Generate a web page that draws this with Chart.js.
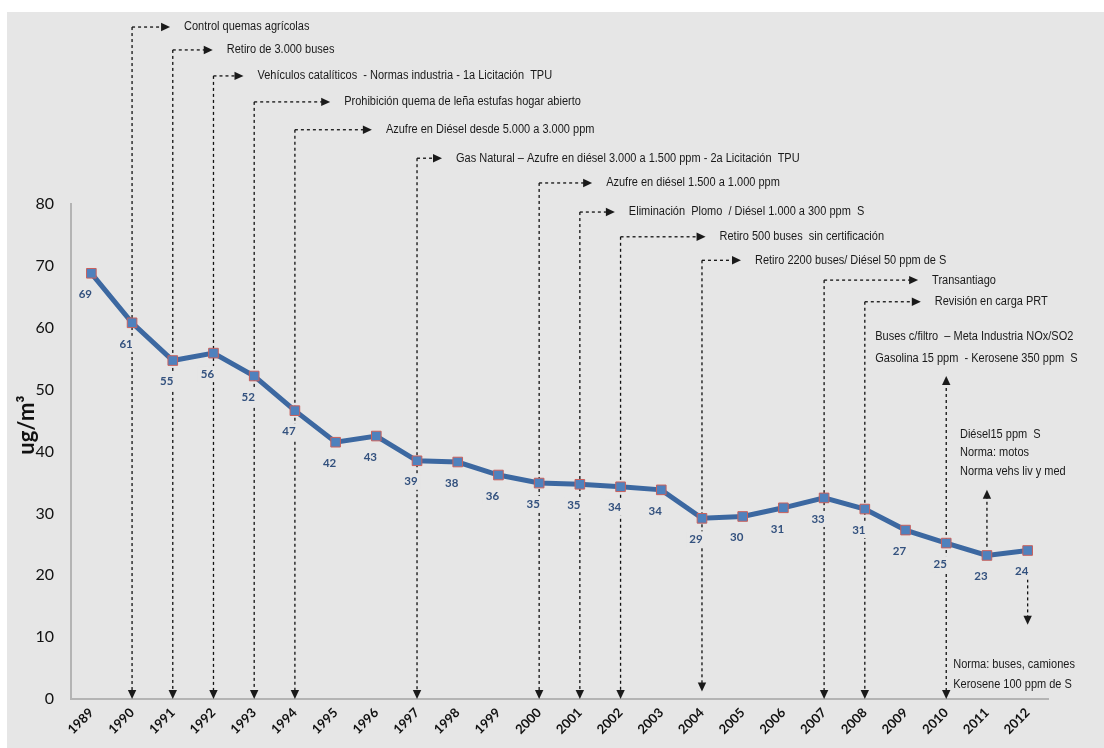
<!DOCTYPE html>
<html>
<head>
<meta charset="utf-8">
<script src="https://cdn.jsdelivr.net/npm/chart.js@4.4.0/dist/chart.umd.min.js"></script>
<style>
  html, body { margin: 0; padding: 0; background: #fff; }
  canvas { display: block; }
</style>
</head>
<body>
<canvas id="pmChart" width="1104" height="748"></canvas>
<script>
// Datos: concentración anual (ug/m3)
const years = ["1989","1990","1991","1992","1993","1994","1995","1996","1997","1998","1999","2000",
               "2001","2002","2003","2004","2005","2006","2007","2008","2009","2010","2011","2012"];
const pm10 = [68.8, 60.8, 54.7, 55.9, 52.2, 46.6, 41.5, 42.5, 38.5, 38.3, 36.2, 34.9,
              34.7, 34.3, 33.8, 29.2, 29.5, 30.9, 32.5, 30.7, 27.3, 25.2, 23.2, 24.0];
const yTicks = [0, 10, 20, 30, 40, 50, 60, 70, 80];

// Medidas (año, nivel de la fila en unidades del eje, largo de flecha, texto)
const eventYears = ["1990","1991","1992","1993","1994","1997","2000","2001","2002","2004","2007","2008"];
const eventLevels = [108.6, 104.9, 100.7, 96.5, 92.0, 87.4, 83.4, 78.7, 74.7, 70.9, 67.7, 64.2];
const eventEnds = [0, 0, 0, 0, 0, 0, 0, 0, 0, 1.2, 0, 0];
const eventArrowLen = [38, 40, 30, 76, 77, 25, 53, 35, 85, 39, 94, 56];
const eventTexts = [
  "Control quemas agrícolas",
  "Retiro de 3.000 buses",
  "Vehículos catalíticos  - Normas industria - 1a Licitación  TPU",
  "Prohibición quema de leña estufas hogar abierto",
  "Azufre en Diésel desde 5.000 a 3.000 ppm",
  "Gas Natural – Azufre en diésel 3.000 a 1.500 ppm - 2a Licitación  TPU",
  "Azufre en diésel 1.500 a 1.000 ppm",
  "Eliminación  Plomo  / Diésel 1.000 a 300 ppm  S",
  "Retiro 500 buses  sin certificación",
  "Retiro 2200 buses/ Diésel 50 ppm de S",
  "Transantiago",
  "Revisión en carga PRT"
];

// notas de los últimos años
const sideNotes = [
  { year: "2010", dx: -71, levels: [58.5, 55.1], lines: ["Buses c/filtro  – Meta Industria NOx/SO2", "Gasolina 15 ppm  - Kerosene 350 ppm  S"] },
  { year: "2010", dx: 7, levels: [5.5, 2.3], lines: ["Norma: buses, camiones", "Kerosene 100 ppm de S"] },
  { year: "2011", dx: -27, levels: [42.8, 39.8, 36.8], lines: ["Diésel15 ppm  S", "Norma: motos", "Norma vehs liv y med"] }
];
const sideArrows = [
  { year: "2010", from: 0, to: 52.2, both: true },
  { year: "2011", from: 24.6, to: 33.8 },
  { year: "2012", from: 20.3, to: 12.0 }
];

const BG = "#e6e6e6";
const NOTE_FONT = '12.5px "Liberation Sans", Arial, sans-serif';

function dashLine(ctx, x1, y1, x2, y2) {
  ctx.beginPath();
  ctx.moveTo(x1, y1);
  ctx.lineTo(x2, y2);
  ctx.stroke();
}

function arrowHead(ctx, x, y, dir) {
  const L = 9, W = 4.2;
  ctx.beginPath();
  if (dir === "right") { ctx.moveTo(x, y); ctx.lineTo(x - L, y - W); ctx.lineTo(x - L, y + W); }
  if (dir === "down") { ctx.moveTo(x, y); ctx.lineTo(x - W, y - L); ctx.lineTo(x + W, y - L); }
  if (dir === "up") { ctx.moveTo(x, y); ctx.lineTo(x - W, y + L); ctx.lineTo(x + W, y + L); }
  ctx.closePath();
  ctx.fill();
}

function noteText(ctx, text, x, y) {
  ctx.save();
  ctx.translate(x, y);
  ctx.scale(0.88, 1);
  ctx.fillText(text, 0, 0);
  ctx.restore();
}

const eventosPlugin = {
  id: "eventos",
  beforeDraw(chart) {
    const ctx = chart.ctx;
    ctx.save();
    ctx.fillStyle = "#fff";
    ctx.fillRect(0, 0, chart.width, chart.height);
    ctx.fillStyle = BG;
    ctx.fillRect(7, 12, chart.width - 7, chart.height - 12);
    ctx.restore();
  },
  beforeDatasetsDraw(chart) {
    const ctx = chart.ctx;
    const xs = chart.scales.x, ys = chart.scales.y;
    ctx.save();
    ctx.strokeStyle = "#111";
    ctx.fillStyle = "#1a1a1a";
    ctx.lineWidth = 1.3;
    ctx.font = NOTE_FONT;
    ctx.textBaseline = "middle";
    ctx.textAlign = "left";

    eventYears.forEach((yr, i) => {
      const x = xs.getPixelForValue(years.indexOf(yr));
      const yRow = ys.getPixelForValue(eventLevels[i]);
      const yEnd = ys.getPixelForValue(eventEnds[i]);
      const len = eventArrowLen[i];
      ctx.setLineDash([3, 3]);
      dashLine(ctx, x, yRow, x, yEnd - 8);
      dashLine(ctx, x, yRow, x + len - 8, yRow);
      ctx.setLineDash([]);
      arrowHead(ctx, x, yEnd, "down");
      arrowHead(ctx, x + len, yRow, "right");
      noteText(ctx, eventTexts[i], x + len + 14, yRow);
    });

    sideArrows.forEach(a => {
      const x = xs.getPixelForValue(years.indexOf(a.year));
      const y1 = ys.getPixelForValue(a.from);
      const y2 = ys.getPixelForValue(a.to);
      const up = y2 < y1;
      ctx.setLineDash([3, 3]);
      dashLine(ctx, x, a.both ? y1 - 8 : y1, x, up ? y2 + 8 : y2 - 8);
      ctx.setLineDash([]);
      arrowHead(ctx, x, y2, up ? "up" : "down");
      if (a.both) arrowHead(ctx, x, y1, "down");
    });

    sideNotes.forEach(n => {
      const x = xs.getPixelForValue(years.indexOf(n.year)) + n.dx;
      n.lines.forEach((t, k) => noteText(ctx, t, x, ys.getPixelForValue(n.levels[k])));
    });
    ctx.restore();
  },
  afterDatasetsDraw(chart) {
    const ctx = chart.ctx;
    const meta = chart.getDatasetMeta(0);
    ctx.save();
    ctx.font = 'bold 11.5px Lato, sans-serif';
    ctx.textAlign = "center";
    ctx.textBaseline = "middle";
    meta.data.forEach((pt, i) => {
      const label = String(Math.round(pm10[i]));
      const lx = pt.x - 6, ly = pt.y + 21;
      const w = ctx.measureText(label).width + 6;
      ctx.fillStyle = BG;
      ctx.fillRect(lx - w / 2, ly - 8, w, 16);
      ctx.fillStyle = "#33517e";
      ctx.fillText(label, lx, ly);
    });

    // título eje y
    ctx.translate(27, 425);
    ctx.rotate(-Math.PI / 2);
    ctx.font = 'bold 22px Lato, sans-serif';
    ctx.fillStyle = "#111";
    ctx.fillText("ug/m³", 0, 0);
    ctx.restore();
  }
};

const ctx = document.getElementById("pmChart").getContext("2d");
new Chart(ctx, {
  type: "line",
  data: {
    labels: years,
    datasets: [{
      data: pm10,
      borderColor: "#3c68a1",
      borderWidth: 5,
      tension: 0,
      pointStyle: "rect",
      pointRadius: 6.8,
      pointBackgroundColor: "#4f81bd",
      pointBorderColor: "#c9605c",
      pointBorderWidth: 1
    }]
  },
  options: {
    responsive: false,
    animation: false,
    layout: { padding: { top: 204, right: 56, left: 0, bottom: 0 } },
    plugins: { legend: { display: false }, tooltip: { enabled: false } },
    scales: {
      x: {
        offset: true,
        grid: { display: false, drawTicks: false },
        border: { color: "#b4b4b4", width: 2 },
        ticks: {
          maxRotation: 45, minRotation: 45, padding: 6,
          color: "#111",
          font: { family: "Lato", size: 13, weight: "bold" }
        },
        afterFit(scale) { scale.height = 49; }
      },
      y: {
        min: 0, max: 80,
        grid: { display: false, drawTicks: false },
        border: { color: "#b4b4b4", width: 2 },
        afterBuildTicks(scale) { scale.ticks = yTicks.map(v => ({ value: v })); },
        ticks: {
          padding: 17,
          color: "#111",
          font: { family: "Lato", size: 16 }
        },
        afterFit(scale) { scale.width = 71; }
      }
    }
  },
  plugins: [eventosPlugin]
});
</script>
</body>
</html>
